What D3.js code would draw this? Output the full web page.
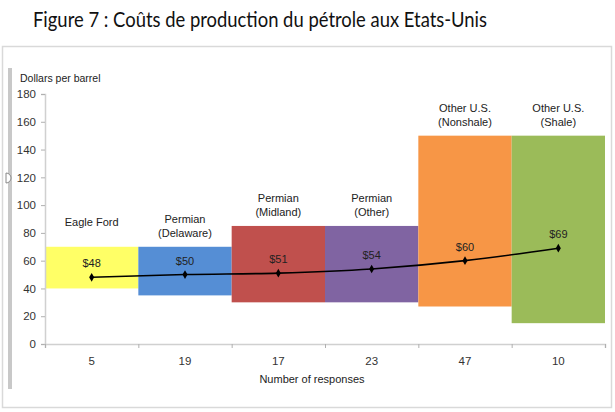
<!DOCTYPE html>
<html>
<head>
<meta charset="utf-8">
<script src="https://cdn.jsdelivr.net/npm/d3@7"></script>
<style>
  body { margin: 0; background: #fff; }
  svg { display: block; }
</style>
</head>
<body>
<script>
// chart data
const regions = ['Eagle Ford', 'Permian (Delaware)', 'Permian (Midland)', 'Permian (Other)', 'Other U.S. (Nonshale)', 'Other U.S. (Shale)'];
const regionLines = [['Eagle Ford'], ['Permian', '(Delaware)'], ['Permian', '(Midland)'], ['Permian', '(Other)'], ['Other U.S.', '(Nonshale)'], ['Other U.S.', '(Shale)']];
const responses = ['5', '19', '17', '23', '47', '10'];
const rangeLow = [40, 35, 30, 30, 27, 15];
const rangeHigh = [70, 70, 85, 85, 150, 150];
const avgCost = [48, 50, 51, 54, 60, 69];
const yTicks = [0, 20, 40, 60, 80, 100, 120, 140, 160, 180];
const colors = ['#ffff66', '#558ed5', '#c0504d', '#8064a2', '#f79646', '#9bbb59'];

const width = 615;
const height = 412;
const plot = { left: 45, right: 605, top: 94, bottom: 344 };

const svg = d3.select('body').append('svg')
  .attr('width', width)
  .attr('height', height);

// title
svg.append('text')
  .attr('x', 260)
  .attr('y', 27)
  .attr('text-anchor', 'middle')
  .style('font-family', 'Lato, "Open Sans", sans-serif')
  .style('font-size', '21px')
  .attr('fill', '#111')
  .attr('textLength', 454)
  .attr('lengthAdjust', 'spacingAndGlyphs')
  .text('Figure 7 : Coûts de production du pétrole aux Etats-Unis');

// frame + the grey handle bar on the left
svg.append('rect')
  .attr('x', 2.5).attr('y', 46.5)
  .attr('width', 609).attr('height', 361)
  .attr('fill', 'none')
  .attr('stroke', '#d9d9d9')
  .attr('stroke-width', 1.5);

svg.append('rect')
  .attr('x', 8).attr('y', 68)
  .attr('width', 4).attr('height', 321)
  .attr('fill', '#c8c8c8');

svg.append('path')
  .attr('d', d3.arc()({ innerRadius: 0, outerRadius: 5, startAngle: 0, endAngle: Math.PI }))
  .attr('transform', 'translate(6,178)')
  .attr('fill', '#fff')
  .attr('stroke', '#888')
  .attr('stroke-width', 1);

const x = d3.scaleBand()
  .domain(regions)
  .range([plot.left, plot.right])
  .padding(0);

const y = d3.scaleLinear()
  .domain([0, 180])
  .range([plot.bottom, plot.top]);

const font = '"Liberation Sans", Arial, sans-serif';

// floating range bars
svg.selectAll('rect.range')
  .data(regions)
  .join('rect')
  .attr('class', 'range')
  .attr('x', d => x(d))
  .attr('width', x.bandwidth())
  .attr('y', (d, i) => y(rangeHigh[i]))
  .attr('height', (d, i) => y(rangeLow[i]) - y(rangeHigh[i]))
  .attr('fill', (d, i) => colors[i]);

// category labels above bars
regions.forEach((r, i) => {
  const lines = regionLines[i];
  const top = y(rangeHigh[i]);
  const t = svg.append('text')
    .attr('text-anchor', 'middle')
    .style('font-family', font)
    .style('font-size', '11px')
    .attr('fill', '#222');
  if (lines.length === 1) {
    t.append('tspan')
      .attr('x', x(r) + x.bandwidth() / 2)
      .attr('y', top - 21)
      .text(lines[0]);
  } else {
    lines.forEach((ln, j) => {
      t.append('tspan')
        .attr('x', x(r) + x.bandwidth() / 2)
        .attr('y', top - 24 + j * 14)
        .text(ln);
    });
  }
});

// y axis
const yAxis = svg.append('g')
  .attr('transform', `translate(${plot.left},0)`)
  .call(d3.axisLeft(y).tickValues(yTicks).tickSize(4).tickPadding(5));
yAxis.select('.domain').attr('stroke', '#d0d0d0').attr('stroke-width', 1.5);
yAxis.selectAll('.tick line').attr('stroke', '#b0b0b0');
yAxis.selectAll('.tick text')
  .style('font-family', font)
  .style('font-size', '11.5px')
  .attr('fill', '#333');

svg.append('text')
  .attr('x', 20)
  .attr('y', 82)
  .style('font-family', font)
  .style('font-size', '10.5px')
  .attr('fill', '#222')
  .text('Dollars per barrel');

// x axis: tick marks at band edges, labels at centres
const edges = d3.scaleLinear().domain([0, regions.length]).range([plot.left, plot.right]);
const xAxis = svg.append('g')
  .attr('transform', `translate(0,${plot.bottom})`)
  .call(d3.axisBottom(edges).tickValues(d3.range(regions.length + 1)).tickSize(4).tickFormat(''));
xAxis.select('.domain').attr('stroke', '#d0d0d0').attr('stroke-width', 1.5);
xAxis.selectAll('.tick line').attr('stroke', '#b0b0b0');

svg.selectAll('text.resp')
  .data(regions)
  .join('text')
  .attr('class', 'resp')
  .attr('x', d => x(d) + x.bandwidth() / 2)
  .attr('y', plot.bottom + 21)
  .attr('text-anchor', 'middle')
  .style('font-family', font)
  .style('font-size', '11.5px')
  .attr('fill', '#333')
  .text((d, i) => responses[i]);

svg.append('text')
  .attr('x', 312)
  .attr('y', 383)
  .attr('text-anchor', 'middle')
  .style('font-family', font)
  .style('font-size', '11px')
  .attr('fill', '#222')
  .text('Number of responses');

// average cost line
const pts = regions.map((r, i) => [x(r) + x.bandwidth() / 2, y(avgCost[i])]);
svg.append('path')
  .datum(pts)
  .attr('fill', 'none')
  .attr('stroke', '#000')
  .attr('stroke-width', 1.6)
  .attr('d', d3.line().curve(d3.curveMonotoneX));

svg.selectAll('path.marker')
  .data(pts)
  .join('path')
  .attr('class', 'marker')
  .attr('d', d3.symbol(d3.symbolDiamond, 22))
  .attr('transform', d => `translate(${d[0]},${d[1]})`)
  .attr('fill', '#000');

svg.selectAll('text.val')
  .data(pts)
  .join('text')
  .attr('class', 'val')
  .attr('x', d => d[0])
  .attr('y', d => d[1] - 10)
  .attr('text-anchor', 'middle')
  .style('font-family', font)
  .style('font-size', '11px')
  .attr('fill', '#222')
  .text((d, i) => '$' + avgCost[i]);
</script>
</body>
</html>
